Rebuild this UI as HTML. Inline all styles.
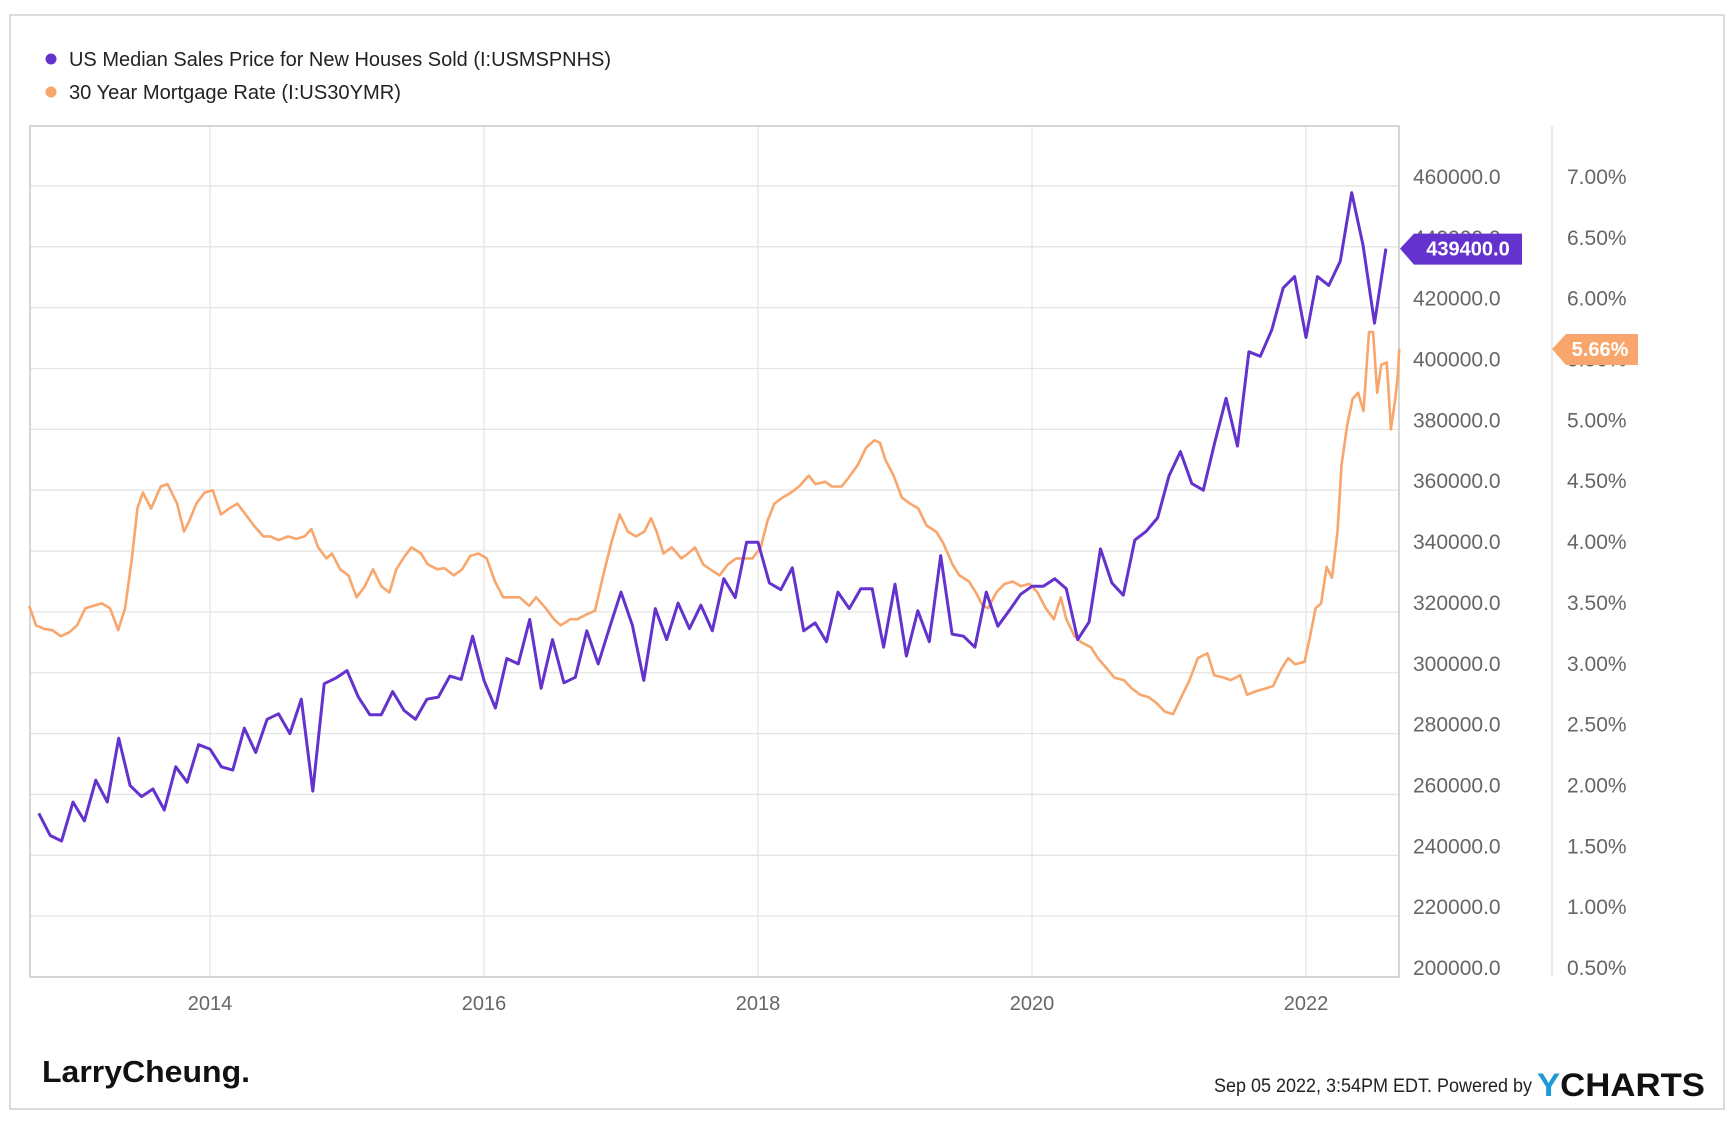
<!DOCTYPE html>
<html><head><meta charset="utf-8">
<style>
html,body{margin:0;padding:0;background:#fff;}
svg{display:block;font-family:"Liberation Sans",sans-serif;}
</style></head>
<body>
<svg id="chart" width="1736" height="1130" viewBox="0 0 1736 1130">
<rect x="10" y="15" width="1714" height="1094" fill="#fff" stroke="#cfcfcf" stroke-width="1.5"/>
<g>
 <g>
  <circle cx="51" cy="59" r="5.5" fill="#6432cc"/>
  <text x="69" y="66" font-size="20" fill="#222" textLength="542" lengthAdjust="spacingAndGlyphs">US Median Sales Price for New Houses Sold (I:USMSPNHS)</text>
 </g>
 <g>
  <circle cx="51" cy="92" r="5.5" fill="#f8a66c"/>
  <text x="69" y="99" font-size="20" fill="#222" textLength="332" lengthAdjust="spacingAndGlyphs">30 Year Mortgage Rate (I:US30YMR)</text>
 </g>
</g>
<g id="grid"></g>
<rect x="30" y="126" width="1369" height="851" fill="none" stroke="#c8c8c8" stroke-width="1.5"/>
<line x1="1552" y1="126" x2="1552" y2="977" stroke="#e2e2e2" stroke-width="1.5"/>
<g id="xaxis"></g>
<g id="yleft"></g>
<g id="yright"></g>
<g id="series"></g>
<g id="tags"></g>
<text x="42" y="1082" font-size="31" font-weight="bold" fill="#111" textLength="208" lengthAdjust="spacingAndGlyphs">LarryCheung.</text>
<text x="1214" y="1092" font-size="19" fill="#222" textLength="318" lengthAdjust="spacingAndGlyphs">Sep 05 2022, 3:54PM EDT.  Powered by</text>
<text x="1537" y="1096" font-size="32" font-weight="bold" fill="#111" textLength="168" lengthAdjust="spacingAndGlyphs"><tspan fill="#1e9ad6">Y</tspan>CHARTS</text>
</svg>
<script>
const priceValues=[253800,246500,244700,257500,251300,264700,257500,278500,262900,259300,
261800,254900,269100,264000,276400,274900,269100,268000,281800,273800,
284700,286500,280000,291300,261100,296400,298200,300700,292000,286200,
286200,293800,287600,284700,291300,292000,298900,297800,312000,297500,
288400,304700,302900,317500,294900,310900,296700,298500,313800,302900,
314900,326500,315600,297500,321100,310900,322900,314500,322200,313800,
330900,324700,342900,342900,329500,327300,334500,313800,316400,310200,
326500,321100,327600,327600,308400,329100,305500,320400,310200,338500,
312700,312000,308400,326500,315300,320400,325800,328400,328400,330900,
327600,310900,316700,340700,329500,325500,343600,346500,350900,364700,
372700,362200,360000,375600,390200,374500,405500,404000,412700,426500,
430200,410200,430200,427300,435300,457800,440400,414900,439400];
const priceStartYear=2012, priceStartMonth=10;
const rateDates=[2012.68,2012.73,2012.79,2012.85,2012.91,2012.97,2013.03,2013.09,2013.15,2013.21,2013.27,2013.33,2013.38,2013.43,2013.47,2013.51,2013.57,2013.64,2013.69,2013.76,2013.81,2013.85,2013.90,2013.96,2014.02,2014.08,2014.14,2014.20,2014.26,2014.32,2014.39,2014.44,2014.50,2014.57,2014.63,2014.69,2014.74,2014.79,2014.85,2014.89,2014.95,2015.01,2015.07,2015.13,2015.19,2015.25,2015.31,2015.36,2015.41,2015.47,2015.54,2015.59,2015.66,2015.71,2015.78,2015.84,2015.90,2015.96,2016.02,2016.08,2016.14,2016.20,2016.26,2016.33,2016.38,2016.45,2016.51,2016.56,2016.63,2016.68,2016.75,2016.81,2016.87,2016.93,2016.99,2017.05,2017.11,2017.17,2017.22,2017.26,2017.31,2017.37,2017.44,2017.49,2017.54,2017.60,2017.65,2017.72,2017.78,2017.84,2017.90,2017.96,2018.02,2018.07,2018.12,2018.18,2018.24,2018.30,2018.37,2018.42,2018.49,2018.54,2018.61,2018.66,2018.73,2018.79,2018.85,2018.89,2018.93,2018.99,2019.05,2019.11,2019.17,2019.23,2019.30,2019.35,2019.42,2019.47,2019.54,2019.59,2019.64,2019.68,2019.74,2019.80,2019.86,2019.92,2019.98,2020.04,2020.10,2020.16,2020.21,2020.25,2020.31,2020.36,2020.43,2020.48,2020.55,2020.60,2020.67,2020.73,2020.79,2020.85,2020.91,2020.97,2021.03,2021.09,2021.15,2021.21,2021.28,2021.33,2021.40,2021.45,2021.52,2021.57,2021.64,2021.70,2021.76,2021.82,2021.87,2021.92,2021.99,2022.03,2022.07,2022.11,2022.15,2022.19,2022.23,2022.26,2022.30,2022.34,2022.38,2022.42,2022.46,2022.49,2022.52,2022.55,2022.59,2022.62,2022.65,2022.67,2022.68];
const rateValues=[3.55,3.39,3.36,3.35,3.30,3.33,3.39,3.53,3.55,3.57,3.53,3.35,3.53,3.94,4.35,4.48,4.35,4.53,4.55,4.39,4.16,4.25,4.39,4.48,4.50,4.30,4.35,4.39,4.30,4.21,4.12,4.12,4.09,4.12,4.10,4.12,4.18,4.03,3.94,3.98,3.85,3.80,3.62,3.71,3.85,3.71,3.66,3.85,3.94,4.03,3.98,3.89,3.85,3.86,3.80,3.85,3.96,3.98,3.94,3.75,3.62,3.62,3.62,3.55,3.62,3.53,3.44,3.39,3.44,3.44,3.48,3.51,3.80,4.07,4.30,4.16,4.12,4.16,4.27,4.16,3.98,4.03,3.94,3.98,4.03,3.89,3.85,3.80,3.89,3.94,3.94,3.94,4.03,4.25,4.39,4.44,4.48,4.53,4.62,4.55,4.57,4.53,4.53,4.60,4.71,4.85,4.91,4.89,4.75,4.62,4.44,4.39,4.35,4.21,4.16,4.07,3.89,3.80,3.75,3.66,3.55,3.53,3.66,3.73,3.75,3.71,3.73,3.66,3.53,3.44,3.62,3.44,3.30,3.25,3.21,3.12,3.03,2.96,2.94,2.87,2.82,2.80,2.75,2.68,2.66,2.80,2.94,3.12,3.16,2.98,2.96,2.94,2.98,2.82,2.85,2.87,2.89,3.03,3.12,3.07,3.09,3.30,3.53,3.57,3.87,3.78,4.16,4.71,5.03,5.25,5.30,5.15,5.80,5.80,5.30,5.53,5.55,5.00,5.24,5.44,5.66];
const yearTicks=[2014,2016,2018,2020,2022];
const priceTicks=[200000,220000,240000,260000,280000,300000,320000,340000,360000,380000,400000,420000,440000,460000];
const rateTicks=[0.5,1.0,1.5,2.0,2.5,3.0,3.5,4.0,4.5,5.0,5.5,6.0,6.5,7.0];

const NS='http://www.w3.org/2000/svg';
const X=yr=>210+(yr-2014)*137;
const YP=v=>977-(v-200000)/20000*60.85;
const YR=r=>977-(r-0.5)/0.5*60.85;
function mk(tag,attrs,parent){const e=document.createElementNS(NS,tag);for(const k in attrs)e.setAttribute(k,attrs[k]);parent.appendChild(e);return e;}
const grid=document.getElementById('grid');
priceTicks.forEach(v=>{if(v===200000)return;
 const l=mk('line',{x1:30,x2:1399,y1:YP(v),y2:YP(v),stroke:'#e4e4e4','stroke-width':1.3},grid);
 
 });
yearTicks.forEach(y=>{
 const l=mk('line',{x1:X(y),x2:X(y),y1:126,y2:977,stroke:'#e4e4e4','stroke-width':1.3},grid);
 
 });
const xa=document.getElementById('xaxis');
yearTicks.forEach(y=>{
 const t=mk('text',{x:X(y),y:1010,'font-size':20,fill:'#666','text-anchor':'middle'},xa);t.textContent=y;
 
 });
const yl=document.getElementById('yleft');
priceTicks.forEach(v=>{
 const t=mk('text',{x:1413,y:YP(v)-2,'font-size':21,fill:'#666'},yl);t.textContent=v.toFixed(1);
 
 });
const yr=document.getElementById('yright');
rateTicks.forEach(v=>{
 const t=mk('text',{x:1567,y:YR(v)-2,'font-size':21,fill:'#666'},yr);t.textContent=v.toFixed(2)+'%';
 
 });
const se=document.getElementById('series');
let rp=rateValues.map((v,i)=>X(rateDates[i]).toFixed(1)+','+YR(v).toFixed(1)).join(' ');
const rl=mk('polyline',{points:rp,fill:'none',stroke:'#f8a66c','stroke-width':2.6,'stroke-linejoin':'round'},se);


let pp=priceValues.map((v,i)=>X(priceStartYear+(priceStartMonth-1+i)/12).toFixed(1)+','+YP(v).toFixed(1)).join(' ');
const pl=mk('polyline',{points:pp,fill:'none',stroke:'#6432cc','stroke-width':3,'stroke-linejoin':'round'},se);


const tg=document.getElementById('tags');
const lastP=priceValues[priceValues.length-1], lastR=rateValues[rateValues.length-1];
const py=YP(lastP);
const pt=mk('polygon',{points:`1400,${py} 1414,${py-15} 1522,${py-15} 1522,${py+16} 1414,${py+16}`,fill:'#6432cc'},tg);


const ptt=mk('text',{x:1468,y:py+7,'font-size':20,'font-weight':'bold',fill:'#fff','text-anchor':'middle'},tg);ptt.textContent=lastP.toFixed(1);


const ry=YR(lastR);
const rt=mk('polygon',{points:`1552,${ry} 1566,${ry-15} 1638,${ry-15} 1638,${ry+16} 1566,${ry+16}`,fill:'#f8a66c'},tg);


const rtt=mk('text',{x:1600,y:ry+7,'font-size':20,'font-weight':'bold',fill:'#fff','text-anchor':'middle'},tg);rtt.textContent=lastR.toFixed(2)+'%';


</script>
</body></html>
